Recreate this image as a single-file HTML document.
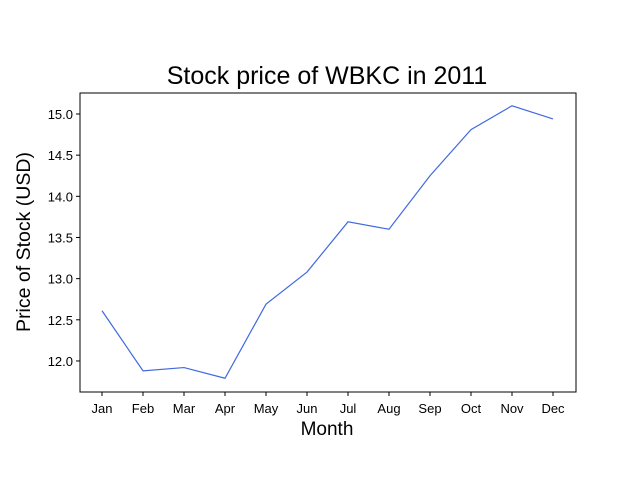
<!DOCTYPE html>
<html><head><meta charset="utf-8"><style>
body{margin:0;background:#fff;font-family:"Liberation Sans",sans-serif}
svg text{font-family:"Liberation Sans",sans-serif}
</style></head><body>
<svg width="640" height="480">
<rect width="640" height="480" fill="#fff"/>
<g id="ax"></g>
</svg>
<script>
const months=["Jan","Feb","Mar","Apr","May","Jun","Jul","Aug","Sep","Oct","Nov","Dec"];
const prices=[12.61,11.88,11.92,11.79,12.69,13.08,13.69,13.60,14.25,14.81,15.10,14.94];
const yTicks=[12.0,12.5,13.0,13.5,14.0,14.5,15.0];
const L=80,R=576,T=93,B=392,yMin=11.623,yMax=15.255;
const xs=i=>102+i*(553-102)/(months.length-1);
const ys=v=>B-(v-yMin)/(yMax-yMin)*(B-T);
const NS="http://www.w3.org/2000/svg";
const g=document.getElementById('ax');
function el(t,a,txt){const e=document.createElementNS(NS,t);for(const k in a)e.setAttribute(k,a[k]);if(txt!=null)e.textContent=txt;g.appendChild(e);return e;}
let e=el('rect',{x:L,y:T,width:R-L,height:B-T,fill:'none',stroke:'#000','stroke-width':1});


months.forEach((m,i)=>{
 let t=el('line',{x1:xs(i),x2:xs(i),y1:B,y2:B+4,stroke:'#000'});
 
 
 let l=el('text',{x:xs(i),y:B+21,'text-anchor':'middle','font-size':13},m);
 
 
});
yTicks.forEach(v=>{
 let t=el('line',{x1:L-4,x2:L,y1:ys(v),y2:ys(v),stroke:'#000'});
 
 
 let l=el('text',{x:L-7,y:ys(v)+5,'text-anchor':'end','font-size':13},v.toFixed(1));
 
 
});
let p=el('polyline',{points:prices.map((v,i)=>xs(i)+','+ys(v)).join(' '),fill:'none',stroke:'#4169e1','stroke-width':1.2});


let ti=el('text',{x:327,y:84,'text-anchor':'middle','font-size':25},'Stock price of WBKC in 2011');


let xl=el('text',{x:327,y:435,'text-anchor':'middle','font-size':19},'Month');


let yl=el('text',{x:30,y:242,'text-anchor':'middle','font-size':19.5,transform:'rotate(-90 30 242)'},'Price of Stock (USD)');


</script>
</body></html>
